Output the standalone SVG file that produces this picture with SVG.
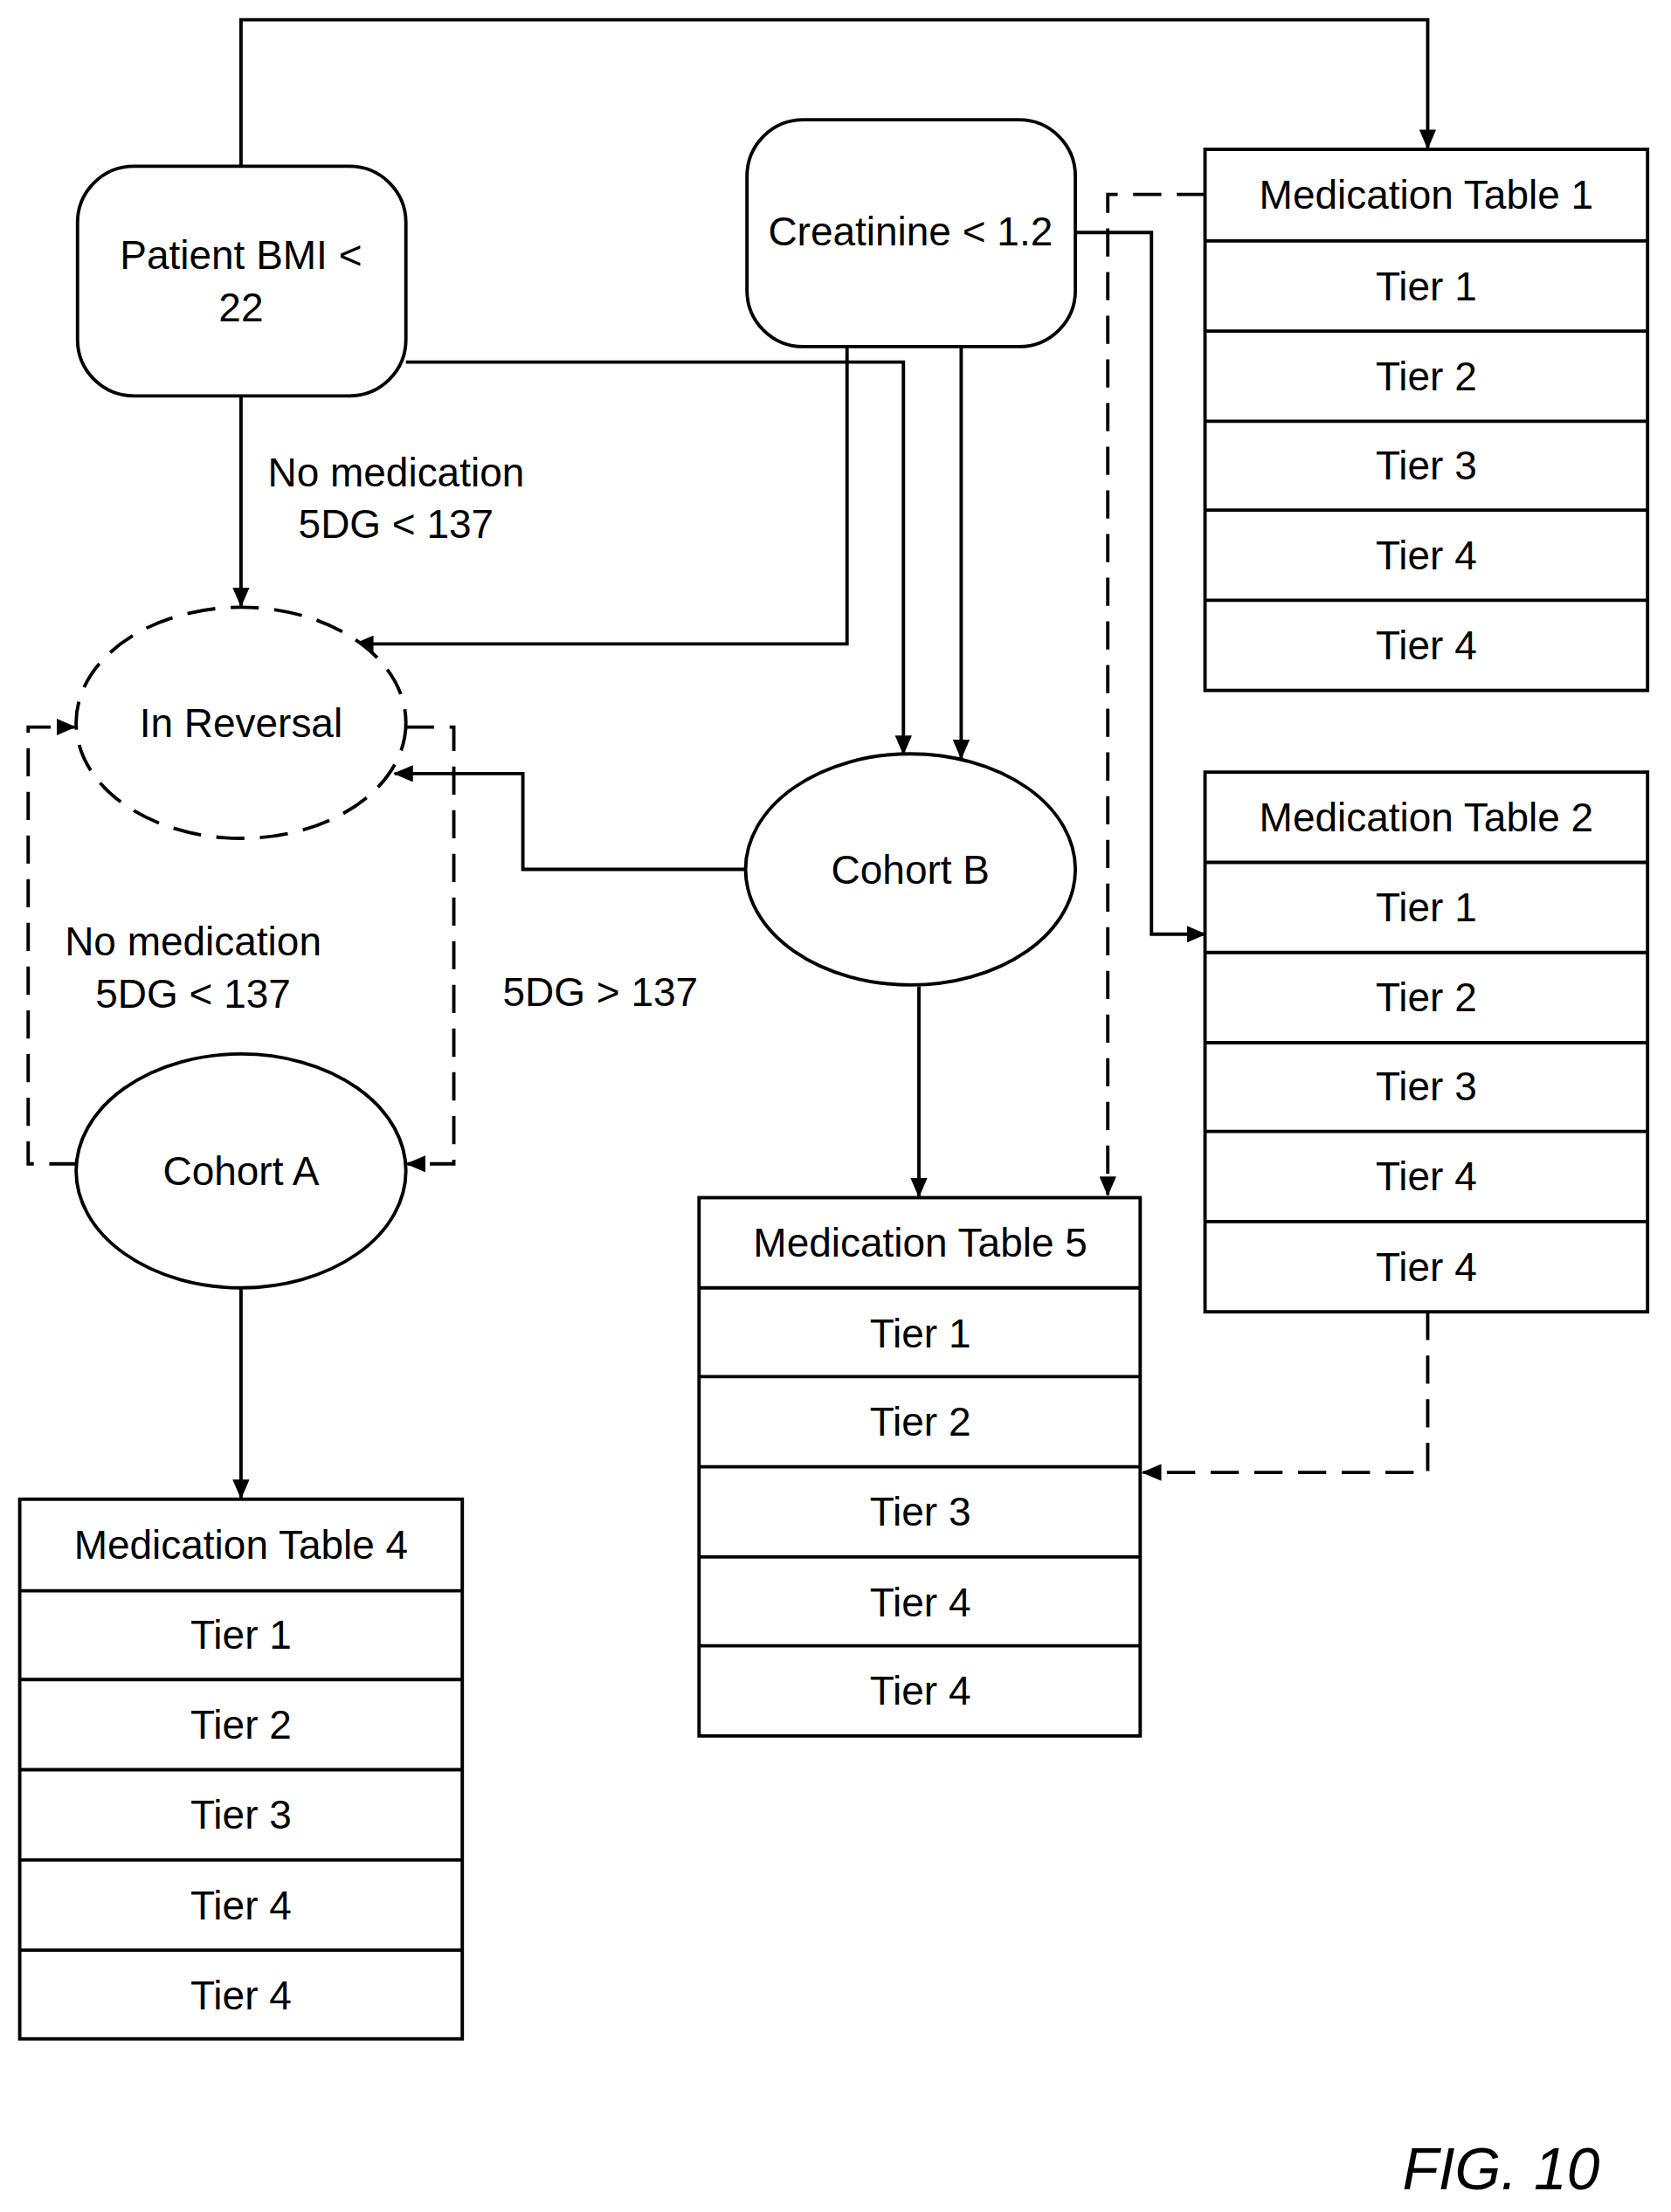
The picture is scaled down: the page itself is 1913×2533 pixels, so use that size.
<svg xmlns="http://www.w3.org/2000/svg" width="1913" height="2533" viewBox="0 0 1913 2533">
<style>
.b{fill:#fff;stroke:#000;stroke-width:2.4}
.t{font-family:"Liberation Sans",Arial,sans-serif;font-size:28.5px;text-anchor:middle;fill:#000}
.c{fill:none;stroke:#000;stroke-width:2.4}
.d{stroke-dasharray:20 11}
</style>
<defs>
<marker id="a" markerUnits="userSpaceOnUse" markerWidth="14" markerHeight="12" refX="13" refY="6" orient="auto"><path d="M0,0 L14,6 L0,12 z" fill="#000"/></marker>
</defs>
<rect width="1913" height="2533" fill="#fff"/>
<g transform="scale(1.6135)">
<g id="connectors">
<path class="c" marker-end="url(#a)" d="M171,118 V14 H1013 V105"/>
<path class="c" marker-end="url(#a)" d="M171,281 V430"/>
<path class="c" marker-end="url(#a)" d="M288,257 H641 V535"/>
<path class="c" marker-end="url(#a)" d="M601,246 V457 H252"/>
<path class="c" marker-end="url(#a)" d="M682,246 V538"/>
<path class="c" marker-end="url(#a)" d="M763,165 H817 V663 H855"/>
<path class="c d" marker-end="url(#a)" d="M855,138 H786 V848"/>
<path class="c" marker-end="url(#a)" d="M530,617 H371 V549 H280"/>
<path class="c" marker-end="url(#a)" d="M652,700 V849"/>
<path class="c" marker-end="url(#a)" d="M171,914 V1063"/>
<path class="c d" marker-end="url(#a)" d="M55,826 H20 V516 H53"/>
<path class="c d" marker-end="url(#a)" d="M288,516 H322 V826 H289"/>
<path class="c d" marker-end="url(#a)" d="M1013,931 V1045 H811"/>
</g>
<g id="bmi"><rect class="b" x="55" y="118" width="233" height="163" rx="40"/><text class="t" x="171" y="191">Patient BMI &lt;</text><text class="t" x="171" y="228">22</text></g>
<g id="creatinine"><rect class="b" x="530" y="85" width="233" height="161" rx="40"/><text class="t" x="646" y="174">Creatinine &lt; 1.2</text></g>
<g id="reversal"><ellipse cx="171" cy="513" rx="117" ry="82" fill="#fff" stroke="#000" stroke-width="2.4" stroke-dasharray="20 11"/><text class="t" x="171" y="523">In Reversal</text></g>
<g id="cohortB"><ellipse class="b" cx="646" cy="617" rx="117" ry="82"/><text class="t" x="646" y="627">Cohort B</text></g>
<g id="cohortA"><ellipse class="b" cx="171" cy="831" rx="117" ry="83"/><text class="t" x="171" y="841">Cohort A</text></g>
<g id="table1"><rect class="b" x="855" y="106" width="314" height="384"/><path class="c" d="M855,171H1169M855,235H1169M855,299H1169M855,362H1169M855,426H1169"/>
<text class="t" x="1012" y="148">Medication Table 1</text><text class="t" x="1012" y="213">Tier 1</text><text class="t" x="1012" y="277">Tier 2</text><text class="t" x="1012" y="340">Tier 3</text><text class="t" x="1012" y="404">Tier 4</text><text class="t" x="1012" y="468">Tier 4</text></g>
<g id="table2"><rect class="b" x="855" y="548" width="314" height="383"/><path class="c" d="M855,612H1169M855,676H1169M855,740H1169M855,803H1169M855,867H1169"/>
<text class="t" x="1012" y="590">Medication Table 2</text><text class="t" x="1012" y="654">Tier 1</text><text class="t" x="1012" y="718">Tier 2</text><text class="t" x="1012" y="781">Tier 3</text><text class="t" x="1012" y="845">Tier 4</text><text class="t" x="1012" y="909">Tier 4</text></g>
<g id="table5"><rect class="b" x="496" y="850" width="313" height="382"/><path class="c" d="M496,914H809M496,977H809M496,1041H809M496,1105H809M496,1168H809"/>
<text class="t" x="653" y="892">Medication Table 5</text><text class="t" x="653" y="956">Tier 1</text><text class="t" x="653" y="1019">Tier 2</text><text class="t" x="653" y="1083">Tier 3</text><text class="t" x="653" y="1147">Tier 4</text><text class="t" x="653" y="1210">Tier 4</text></g>
<g id="table4"><rect class="b" x="14" y="1064" width="314" height="383"/><path class="c" d="M14,1129H328M14,1192H328M14,1256H328M14,1320H328M14,1384H328"/>
<text class="t" x="171" y="1106">Medication Table 4</text><text class="t" x="171" y="1170">Tier 1</text><text class="t" x="171" y="1234">Tier 2</text><text class="t" x="171" y="1298">Tier 3</text><text class="t" x="171" y="1362">Tier 4</text><text class="t" x="171" y="1426">Tier 4</text></g>
<g id="labels">
<text class="t" x="281" y="345">No medication</text><text class="t" x="281" y="382">5DG &lt; 137</text>
<text class="t" x="137" y="678">No medication</text><text class="t" x="137" y="715">5DG &lt; 137</text>
<text class="t" x="426" y="714">5DG &gt; 137</text>
<text class="t" x="1065" y="1554" style="font-size:42px;font-style:italic">FIG. 10</text>
</g>
</g>
</svg>
